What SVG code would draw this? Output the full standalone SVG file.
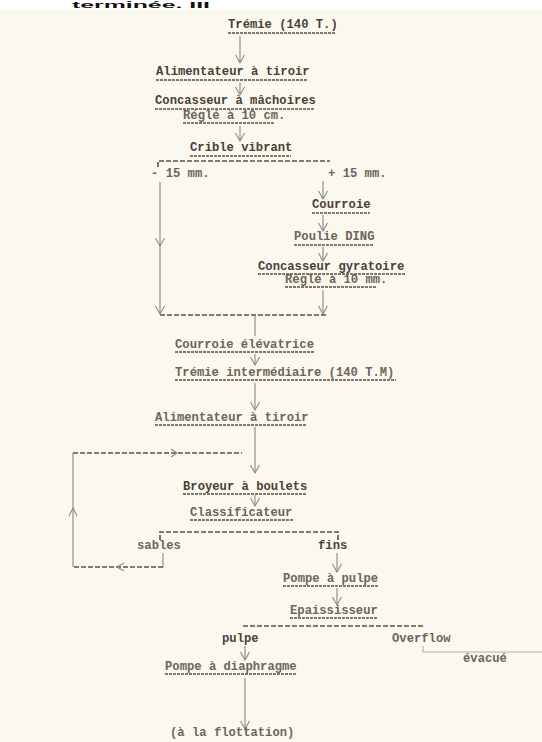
<svg xmlns="http://www.w3.org/2000/svg" width="542" height="742" viewBox="0 0 542 742">
<defs>
<style>
.t{font-family:"Liberation Mono","DejaVu Sans Mono",monospace;font-size:12.2px;font-weight:bold;fill:#4a3f35}
.tl{font-family:"Liberation Mono","DejaVu Sans Mono",monospace;font-size:12.2px;font-weight:bold;fill:#6e6458}
.ul{stroke:#5a4c3e;stroke-width:1.6;stroke-dasharray:3 1;fill:none}
.ln{stroke:#8c8780;stroke-width:1.1;fill:none}
.dash{stroke:#5e4f40;stroke-width:1.6;stroke-dasharray:5 2;fill:none}
.hd{stroke:#8c8780;stroke-width:1.1;fill:none}
</style>
<marker id="ah" markerWidth="12" markerHeight="12" viewBox="-10 -6 12 12" refX="0" refY="0" orient="auto" markerUnits="userSpaceOnUse">
<path d="M-8,-4.5 L0,0 L-8,4.5" stroke="#8c8780" stroke-width="1.1" fill="none"/>
</marker>
</defs>
<rect width="542" height="742" fill="#fbf9ef"/>
<rect width="542" height="9" fill="#ffffff"/>
<text x="72" y="7.5" textLength="138" lengthAdjust="spacingAndGlyphs" style="font-family:'Liberation Sans',Arial,sans-serif;font-size:9px;font-weight:bold;fill:#111">terminée. III</text>

<g id="connectors">
<path class="ln" d="M240,36 V63" marker-end="url(#ah)"/>
<path class="ln" d="M240,82 V95" marker-end="url(#ah)"/>
<path class="ln" d="M240,126 V141" marker-end="url(#ah)"/>
<path class="dash" d="M158,167 V161 H330"/>
<path class="ln" d="M160,182 V314" marker-end="url(#ah)"/>
<path class="hd" d="M155.5,238 L160,246 L164.5,238"/>
<path class="ln" d="M323,181 V199" marker-end="url(#ah)"/>
<path class="ln" d="M323,215 V231" marker-end="url(#ah)"/>
<path class="ln" d="M323,247 V261" marker-end="url(#ah)"/>
<path class="ln" d="M323,290 V314" marker-end="url(#ah)"/>
<path class="dash" d="M160,315 H326"/>
<path class="ln" d="M255,316 V336"/>
<path class="ln" d="M255,354 V365" marker-end="url(#ah)"/>
<path class="ln" d="M255,383 V410" marker-end="url(#ah)"/>
<path class="ln" d="M255,427 V473" marker-end="url(#ah)"/>
<path class="ln" d="M163,553 V567"/>
<path class="dash" d="M163,567 H73"/>
<path class="ln" d="M73,567 V453"/>
<path class="dash" d="M73,453 H242"/>
<path class="hd" d="M124,563 L117,567 L124,571"/>
<path class="hd" d="M69,516 L73,508 L77,516"/>
<path class="hd" d="M171,449 L177,453 L171,457"/>
<path class="ln" d="M255,495 V506" marker-end="url(#ah)"/>
<path class="dash" d="M160,540 V532 H338 V540"/>
<path class="ln" d="M337,553 V572" marker-end="url(#ah)"/>
<path class="ln" d="M337,588 V605" marker-end="url(#ah)"/>
<path class="dash" d="M243,626 H423"/>
<path class="ln" d="M245,646 V660" marker-end="url(#ah)"/>
<path class="ln" style="stroke:#b5b0a8" d="M423,646 V652 H542"/>
<path class="ln" d="M245,678 V729" marker-end="url(#ah)"/>
</g>

<g id="n1"><text class="t" x="228" y="28">Trémie (140 T.)</text><path class="ul" d="M228,33 H336"/></g>
<g id="n2"><text class="t" x="156" y="75">Alimentateur à tiroir</text><path class="ul" d="M156,80 H308"/></g>
<g id="n3"><text class="t" x="155" y="104">Concasseur à mâchoires</text><path class="ul" d="M155,109 H315"/>
<text class="tl" x="183" y="119">Réglé à 10 cm.</text><path class="ul" d="M183,123 H275"/></g>
<g id="n4"><text class="t" x="190" y="151">Crible vibrant</text><path class="ul" d="M190,156 H291"/></g>
<g id="l1"><text class="tl" x="151" y="177">- 15 mm.</text><text class="tl" x="328" y="177">+ 15 mm.</text></g>
<g id="n5"><text class="t" x="312" y="208">Courroie</text><path class="ul" d="M312,213 H370"/></g>
<g id="n6"><text class="tl" x="294" y="240">Poulie DING</text><path class="ul" d="M294,245 H373"/></g>
<g id="n7"><text class="t" x="258" y="270">Concasseur gyratoire</text><path class="ul" d="M258,274 H405"/>
<text class="tl" x="285" y="283">Réglé à 10 mm.</text><path class="ul" d="M285,287 H376"/></g>
<g id="n8"><text class="tl" x="175" y="348">Courroie élévatrice</text><path class="ul" d="M175,352 H314"/></g>
<g id="n9"><text class="tl" x="175" y="376">Trémie intermédiaire (140 T.M)</text><path class="ul" d="M175,380 H396"/></g>
<g id="n10"><text class="tl" x="155" y="421">Alimentateur à tiroir</text><path class="ul" d="M155,425 H307"/></g>
<g id="n11"><text class="t" x="183" y="490">Broyeur à boulets</text><path class="ul" d="M183,494 H307"/></g>
<g id="n12"><text class="tl" x="190" y="516">Classificateur</text><path class="ul" d="M190,520 H293"/></g>
<g id="l2"><text class="tl" x="137" y="549">sables</text><text class="t" x="318" y="549">fins</text></g>
<g id="n13"><text class="tl" x="283" y="582">Pompe à pulpe</text><path class="ul" d="M283,586 H378"/></g>
<g id="n14"><text class="tl" x="290" y="614">Epaississeur</text><path class="ul" d="M290,618 H378"/></g>
<g id="l3"><text class="t" x="222" y="642">pulpe</text><text class="tl" x="392" y="642">Overflow</text><text class="tl" x="463" y="662">évacué</text></g>
<g id="n15"><text class="tl" x="165" y="670">Pompe à diaphragme</text><path class="ul" d="M165,674 H297"/></g>
<g id="n16"><text class="tl" x="170" y="736">(à la flottation)</text></g>
</svg>
